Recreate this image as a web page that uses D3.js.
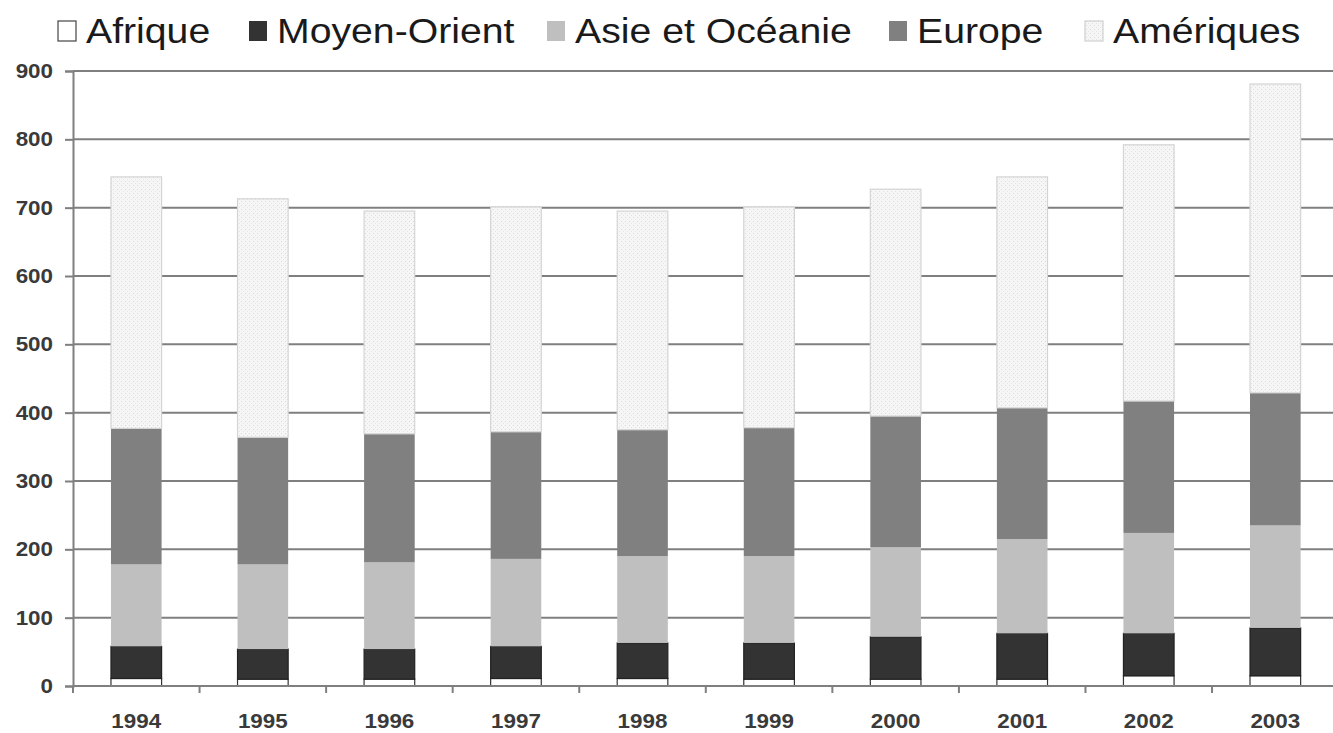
<!DOCTYPE html>
<html>
<head>
<meta charset="utf-8">
<script src="https://cdn.jsdelivr.net/npm/d3@7"></script>
<style>
  body { margin: 0; background: #fff; }
  svg { display: block; font-family: "Liberation Sans", Arial, sans-serif; }
</style>
</head>
<body>
<div id="chart"></div>
<script>
var years = ["1994", "1995", "1996", "1997", "1998", "1999", "2000", "2001", "2002", "2003"];
var regions = ["Afrique", "Moyen-Orient", "Asie et Océanie", "Europe", "Amériques"];
var afrique = [11, 10, 10, 11, 11, 10, 10, 10, 15, 15];
var moyenOrient = [47, 44, 44, 47, 52, 53, 62, 67, 62, 70];
var asie = [120, 124, 127, 128, 127, 127, 131, 138, 147, 150];
var europe = [199, 186, 188, 186, 185, 188, 192, 192, 193, 194];
var ameriques = [368, 349, 326, 329, 320, 323, 332, 338, 375, 452];
var yTicks = [0, 100, 200, 300, 400, 500, 600, 700, 800, 900];

function init() {
    var w = 1333;
    var h = 733;
    var left = 73, right = 1338.6, top = 71, bottom = 686;

    var seriesValues = [afrique, moyenOrient, asie, europe, ameriques];
    var table = years.map(function (y, i) {
        var row = { year: y };
        regions.forEach(function (r, k) { row[r] = seriesValues[k][i]; });
        return row;
    });
    var stacked = d3.stack().keys(regions)(table);

    var xScale = d3.scaleBand()
        .domain(years)
        .range([left, right])
        .paddingInner(0.6)
        .paddingOuter(0.3);

    var yScale = d3.scaleLinear()
        .domain([0, 900])
        .range([bottom, top]);

    var svg = d3.select("#chart")
        .append("svg")
        .attr("width", w)
        .attr("height", h);

    // dotted fill for Amériques
    var pat = svg.append("defs").append("pattern")
        .attr("id", "dots")
        .attr("patternUnits", "userSpaceOnUse")
        .attr("width", 4)
        .attr("height", 4);
    pat.append("rect").attr("width", 4).attr("height", 4).attr("fill", "#f6f6f6");
    pat.append("rect").attr("x", 1).attr("y", 1).attr("width", 1).attr("height", 1).attr("fill", "#d9d9d9");
    pat.append("rect").attr("x", 3).attr("y", 3).attr("width", 1).attr("height", 1).attr("fill", "#e2e2e2");

    var fills = {
        "Afrique": "#ffffff",
        "Moyen-Orient": "#333333",
        "Asie et Océanie": "#bfbfbf",
        "Europe": "#808080",
        "Amériques": "url(#dots)"
    };
    var strokes = {
        "Afrique": "#333333",
        "Moyen-Orient": "#222222",
        "Asie et Océanie": "none",
        "Europe": "none",
        "Amériques": "#d4d4d4"
    };

    // gridlines
    svg.append("g")
        .selectAll("line")
        .data(yTicks.slice(1))
        .enter()
        .append("line")
        .attr("x1", left)
        .attr("x2", w)
        .attr("y1", function (d) { return yScale(d); })
        .attr("y2", function (d) { return yScale(d); })
        .attr("stroke", "#7f7f7f")
        .attr("stroke-width", 2);

    // bars
    svg.append("g")
        .selectAll("g")
        .data(stacked)
        .enter()
        .append("g")
        .attr("fill", function (d) { return fills[d.key]; })
        .attr("stroke", function (d) { return strokes[d.key]; })
        .attr("stroke-width", 1.2)
        .selectAll("rect")
        .data(function (d) { return d; })
        .enter()
        .append("rect")
        .attr("x", function (d) { return xScale(d.data.year); })
        .attr("y", function (d) { return yScale(d[1]); })
        .attr("width", xScale.bandwidth())
        .attr("height", function (d) { return yScale(d[0]) - yScale(d[1]); });

    // y axis
    var yAxis = svg.append("g")
        .attr("transform", "translate(" + left + ",0)")
        .call(d3.axisLeft(yScale).tickValues(yTicks).tickSize(8).tickPadding(12));
    yAxis.select(".domain").attr("stroke", "#7f7f7f").attr("stroke-width", 2);
    yAxis.selectAll(".tick line").attr("stroke", "#7f7f7f").attr("stroke-width", 2);
    yAxis.selectAll("text")
        .attr("font-size", 20)
        .attr("font-weight", "bold")
        .attr("fill", "#3a3a3a");

    // x axis
    var step = xScale.step();
    var boundaries = d3.range(years.length + 1).map(function (i) { return left + i * step; });
    svg.append("line")
        .attr("x1", left).attr("x2", w)
        .attr("y1", bottom).attr("y2", bottom)
        .attr("stroke", "#7f7f7f").attr("stroke-width", 2);
    svg.append("g")
        .selectAll("line")
        .data(boundaries)
        .enter()
        .append("line")
        .attr("x1", function (d) { return d; })
        .attr("x2", function (d) { return d; })
        .attr("y1", bottom)
        .attr("y2", bottom + 7)
        .attr("stroke", "#7f7f7f")
        .attr("stroke-width", 2);
    svg.append("g")
        .selectAll("text")
        .data(years)
        .enter()
        .append("text")
        .attr("x", function (d) { return xScale(d) + xScale.bandwidth() / 2; })
        .attr("y", 728)
        .attr("text-anchor", "middle")
        .attr("font-size", 20)
        .attr("font-weight", "bold")
        .attr("fill", "#3a3a3a")
        .attr("class", "stretch")
        .text(function (d) { return d; });

    // legend
    var legendX = [58, 249, 547, 889, 1085];
    var legend = svg.append("g")
        .selectAll("g")
        .data(regions)
        .enter()
        .append("g")
        .attr("transform", function (d, i) { return "translate(" + legendX[i] + ",0)"; });
    legend.append("rect")
        .attr("x", 0)
        .attr("y", 21)
        .attr("width", 18)
        .attr("height", 20)
        .attr("fill", function (d) { return fills[d]; })
        .attr("stroke", function (d) { return d === "Afrique" ? "#444" : (d === "Amériques" ? "#d0d0d0" : "none"); })
        .attr("stroke-width", 1.2);
    legend.append("text")
        .attr("x", 28)
        .attr("y", 43)
        .attr("font-size", 35)
        .attr("fill", "#1a1a1a")
        .attr("class", "stretch")
        .text(function (d) { return d; });

    yAxis.selectAll("text").classed("stretch", true);

    // the source picture is slightly wider than tall
    svg.selectAll(".stretch").each(function () {
        var len = this.getComputedTextLength();
        d3.select(this)
            .attr("textLength", len * 1.12)
            .attr("lengthAdjust", "spacingAndGlyphs");
    });
}

window.onload = init;
</script>
</body>
</html>
